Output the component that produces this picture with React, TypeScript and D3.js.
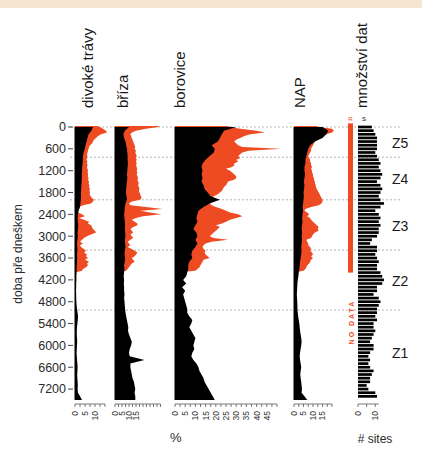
import React from 'react';
import * as d3 from 'd3';

const W = 422;
const H = 451;

// ---------- data ----------
const blackAges = [0,100,200,300,400,500,600,700,800,900,1000,1100,1200,1300,1400,1500,1600,1700,1800,1900,2000,2100,2200,2300,2400,2500,2600,2700,2800,2900,3000,3100,3200,3300,3400,3500,3600,3700,3800,3900,4000,4100,4200,4300,4400,4500,4600,4700,4800,4900,5000,5100,5200,5300,5400,5500,5600,5700,5800,5900,6000,6100,6200,6300,6400,6500,6600,6700,6800,6900,7000,7100,7200,7300,7400,7500];
const redAges = [-30,0,50,100,150,200,250,300,350,400,450,500,550,600,650,700,750,800,850,900,950,1000,1050,1100,1150,1200,1250,1300,1350,1400,1450,1500,1550,1600,1650,1700,1750,1800,1850,1900,1950,2000,2050,2100,2150,2200,2250,2300,2350,2400,2450,2500,2550,2600,2650,2700,2750,2800,2850,2900,2950,3000,3050,3100,3150,3200,3250,3300,3350,3400,3450,3500,3550,3600,3650,3700,3750,3800,3850,3900,3950,4000];

const grassBlack = [9,8.2,6.8,6.2,5.8,5.3,4.9,4.3,4,3.9, 3.8,3.6,3.5,3.4,3.4,3.3,3.2,3.1,3,3, 2.9,2.7,2.5,1.8,1.5,1.3,1.4,1.6,1.5,1.3, 1.4,1.2,1,1.1,1.2,1,1.1,1,0.9,0.8, 0.8,0.7,0.7,0.6,0.6,0.5,0.6,0.6,0.7,0.8, 1,1.3,1.5,1.4,1.2,1,0.9,0.9,1,1.1, 1,0.9,0.8,0.9,1,1.2,1.3,1.2,1.1,1.2, 1.3,1.4,1.3,1.5,2.5,3.5];
const grassRed = [11, 12.5,14,15.5,16,13,11.5,10.5,9.5,9,8.5, 7.5,7,6.8,6.5,6.3,6,6.2,6,5.8,6.2, 6,6.3,6,6.2,6.5,6.3,6.6,6.4,6.8,6.5, 7,6.8,7.2,7,7.5,7.2,7.5,7.3,7.8,8.5, 9.5,9,8,4,2,1.6,1.6,1.5,3.5,5, 2,4.5,7,6.5,8,8.5,9,10,10.5,8, 6,4.5,3.5,2.5,4,2.5,3,4.5,5.5,4.5, 6,5.5,6.5,5,7,6,6.5,5.5,4,3.5, 0];

const birchBlack = [10,7,6,6.5,7.5,8,8.5,8.8,9,9, 9.2,9,8.8,8.5,8.8,8.5,8.2,8,7.8,8.2, 8.5,7.5,7,6.8,6.5,6.8,7,7.2,7,7.3, 7.5,7,7.2,7.5,7,6.8,7.2,7,6.5,6.8, 6.5,6.2,6.5,6.3,6.5,6.5,6.8,6.5,6.8,7, 7.2,7.5,8,8.5,9,9.5,9.3,10,11,12, 11.5,10.5,10,10.5,21,11,11,11.5,12,12.5, 13.5,14,14.5,14,14.5,14.5];
const birchRed = [32, 31,22,15,12,11,11.5,12,12.5,13,13.5, 14,14.5,14,15,14.5,15,15.5,15,15.5,15, 15.5,15,15.5,15.8,15.5,16,15.5,16,16.5,16, 16.5,17,16.5,17,17.5,17,17.5,18,18.5,19, 18,12,10,11,22,34,18,25,33,20, 15,12,14,16,16,13,11,12,13,11, 12,13,11,9,10,11,9,12,14,16, 15,14,12,13,14,12,11,10,9,8, 0];

const pineBlack = [30,24,23,22,21,18,19.5,19,17,15, 13.5,13,13.5,13,13.5,13,14,14.5,16,17.5, 22,17,14,11.5,11,10.5,11,10,9,10.5, 11,10,11,10,8.5,8,8.5,7,6.5,6.5, 6,5.5,4,5.5,3.5,5,4,4.5,5,5.5, 6,6,7,8.5,8,7,8,9,10,9.5, 9,9.5,8.5,8,9,10.5,11.5,12,13,14, 14.5,15.5,16.5,17.5,18.5,19.5];
const pineRed = [26, 27,32,40,44,37,34,32,30,29,30, 31,33,52,36,33,32,31,32,30,31, 29,29,28,25,27,28,29,30,30,29, 26,25.5,25,24,23.5,23,22,21,19,18, 21,17,17,18,20,23,25,27,31,33, 30,27,25,23,20,22,21,20,19,18, 17,19,26,18,15,14,13.5,14,15,14.5, 15,16,17,14,13.5,13,12.5,12,11,10, 0];

const napBlack = [15,18,17,15,11,8.5,7.5,7,6.5,6, 6,5.5,5.5,5.8,5.5,5.2,5.5,5.3,5,5.2, 5,4.8,4.5,4.8,4.5,4.3,4.5,4.2,4,4.3, 4,4.2,4,3.8,4,3.8,3.5,3.2,3,2.8, 2.5,2.3,2,1.8,1.7,1.6,1.5,1.6,1.7,1.8, 1.8,2,2.2,2.5,2.8,3,3.2,3.5,3.8,4, 3.8,3.5,3.2,3,3.2,3.5,3.8,3.5,3.3,3.5, 3.8,4,4.2,4,5.5,7];
const napRed = [12, 13,20,21,20,17,15,14,12.5,11,10.5, 10,9.5,9,9,8.5,8,7.5,8,8.5,8.5, 9,9,9.5,9,9.5,9.5,10,10,10.5,10.5, 11,11,11.5,11.5,12,12.5,13,13.5,14,14.5, 15,15,14.5,13,9,6,5.5,7,8,7, 8.5,9,10,11,12,13,12.5,13,11,10, 9.5,9,6.5,7,7.5,7.5,8.5,9,8.5,9.5, 10,9,10,9,8.5,8,7,6.5,6,5, 0];

const siteAges = [0,100,200,300,400,500,600,700,800,900,1000,1100,1200,1300,1400,1500,1600,1700,1800,1900,2000,2100,2200,2300,2400,2500,2600,2700,2800,2900,3000,3100,3200,3300,3400,3500,3600,3700,3800,3900,4000,4100,4200,4300,4400,4500,4600,4700,4800,4900,5000,5100,5200,5300,5400,5500,5600,5700,5800,5900,6000,6100,6200,6300,6400,6500,6600,6700,6800,6900,7000,7100,7200,7300,7400];
const siteCounts = [8,9,10,11,11,11,11,10,11,12,13,12,13,14,13,11,13,14,13,12,13,15,13,10,12,13,12,13,12,12,11,8,7,11,11,10,11,12,11,11,13,14,15,14,11, 11,9,12,13,12,11,11,10,11,9,9,10,9,8,7,9,9,7,6,7,6,7,9,8,7,7,5,6,10,11];

const yTickValues = [0,600,1200,1800,2400,3000,3600,4200,4800,5400,6000,6600,7200];
const zoneBoundaries = [0, 830, 2000, 3380, 5030];
const zoneLabels = ['Z5','Z4','Z3','Z2','Z1'];
const zoneLabelAges = [430, 1430, 2720, 4230, 6210];

const titles = ['divoké trávy', 'bříza', 'borovice', 'NAP', 'množství dat'];

// ---------- layout ----------
const RED = '#ee4b22';
const FONT = "'Liberation Sans', Arial, Helvetica, sans-serif";

const panels = [
  { title: titles[0], black: grassBlack, red: grassRed, x0: 75, px: 2.0, axisMax: 15, tickStep: 2.5, labels: [0,5,10], titleX: 93 },
  { title: titles[1], black: birchBlack, red: birchRed, x0: 115, px: 1.4, axisMax: 32.5, tickStep: 2.5, labels: [0,5,10,15], titleX: 128 },
  { title: titles[2], black: pineBlack, red: pineRed, x0: 175, px: 2.04, axisMax: 50, tickStep: 2.5, labels: [0,5,10,15,20,25,30,35,40,45], titleX: 185 },
  { title: titles[3], black: napBlack, red: napRed, x0: 294, px: 1.9, axisMax: 20, tickStep: 2.5, labels: [0,5,10,15], titleX: 305 },
];

export default function App() {
  const y = d3.scaleLinear().domain([0, 7500]).range([127, 400]);
  const axisY = 404;

  const panelEls = panels.map((p, i) => {
    const x = d3.scaleLinear().domain([0, p.axisMax]).range([p.x0, p.x0 + p.axisMax * p.px]);
    const area = d3.area<[number, number]>()
      .x0(() => x(0))
      .x1(d => x(d[1]))
      .y(d => y(d[0]));
    const redPts: [number, number][] = redAges.map((a, k) => [a, p.red[k]]);
    const blackPts: [number, number][] = blackAges.map((a, k) => [a, p.black[k]]);
    const ticks = d3.range(0, p.axisMax + 0.001, p.tickStep);
    return (
      <g key={i}>
        <path d={area(redPts) || ''} fill={RED} />
        <path d={area(blackPts) || ''} fill="#000" />
        <line x1={x(0)} x2={x(0)} y1={y(0)} y2={y(7500)} stroke="#000" strokeWidth={1} />
        <line x1={x(0)} x2={x(p.axisMax)} y1={axisY} y2={axisY} stroke="#555" strokeWidth={0.8} />
        {ticks.map((t, k) => (
          <line key={k} x1={x(t)} x2={x(t)} y1={axisY} y2={axisY + 3} stroke="#555" strokeWidth={0.8} />
        ))}
        {p.labels.map((t, k) => (
          <text key={k} transform={`translate(${x(t)},${axisY + 7}) rotate(-90)`} textAnchor="end" dy="0.35em" fontSize={8.5} fill="#333">{t}</text>
        ))}
        <text transform={`translate(${p.titleX},108) rotate(-90)`} fontSize={15} fill="#1a1a1a">{p.title}</text>
      </g>
    );
  });

  // sites bars
  const xs = d3.scaleLinear().domain([0, 10]).range([358, 375.3]);
  const band = y(100) - y(0);

  return (
    <svg width={W} height={H} style={{ position: 'absolute', left: 0, top: 0, background: '#fff' }} fontFamily={FONT}>
      <rect x={0} y={0} width={W} height={8} fill="#f5e6d2" />
      {/* zone boundaries */}
      {zoneBoundaries.map((a, i) => (
        <line key={i} x1={70} x2={400} y1={y(a)} y2={y(a)} stroke="#b5b5b5" strokeWidth={1} strokeDasharray="2,2" />
      ))}
      {/* y axis */}
      {yTickValues.map((v, i) => (
        <g key={i}>
          <line x1={68} x2={73} y1={y(v)} y2={y(v)} stroke="#444" strokeWidth={1} />
          <text x={66} y={y(v)} dy="0.35em" textAnchor="end" fontSize={12.5} fill="#2a2a2a">{v}</text>
        </g>
      ))}
      <text transform={`translate(22,254) rotate(-90)`} textAnchor="middle" fontSize={12} fill="#2a2a2a">doba pře dneškem</text>
      {panelEls}
      {/* R bar */}
      <rect x={348} y={y(-100)} width={5} height={y(4000) - y(-100)} fill={RED} />
      <text x={350.5} y={121} textAnchor="middle" fontSize={6} fill={RED}>R</text>
      <text transform={`translate(352,322) rotate(-90)`} textAnchor="middle" dy="0.35em" fontSize={7} fontWeight="bold" letterSpacing={2} fill={RED}>NO DATA</text>
      {/* sites */}
      <text x={364} y={121} textAnchor="middle" fontSize={6} fill="#000">S</text>
      {siteAges.map((a, i) => (
        <rect key={i} x={xs(0)} y={y(a) - band * 0.37} width={xs(siteCounts[i]) - xs(0)} height={band * 0.74} fill="#000" />
      ))}
      <line x1={xs(0)} x2={xs(12)} y1={axisY} y2={axisY} stroke="#555" strokeWidth={0.8} />
      {[0, 5, 10].map((t, k) => (
        <line key={k} x1={xs(t)} x2={xs(t)} y1={axisY} y2={axisY + 3} stroke="#555" strokeWidth={0.8} />
      ))}
      {[0, 10].map((t, k) => (
        <text key={k} transform={`translate(${xs(t)},${axisY + 7}) rotate(-90)`} textAnchor="end" dy="0.35em" fontSize={8.5} fill="#333">{t}</text>
      ))}
      <text transform={`translate(367,108) rotate(-90)`} fontSize={15} fill="#1a1a1a">{titles[4]}</text>
      {/* zone labels */}
      {zoneLabels.map((z, i) => (
        <text key={i} x={392} y={y(zoneLabelAges[i])} dy="0.35em" fontSize={14} fill="#1a1a1a">{z}</text>
      ))}
      <text x={170} y={442} fontSize={13} fill="#2a2a2a">%</text>
      <text x={375} y={443} textAnchor="middle" fontSize={12} fill="#2a2a2a"># sites</text>
    </svg>
  );
}
